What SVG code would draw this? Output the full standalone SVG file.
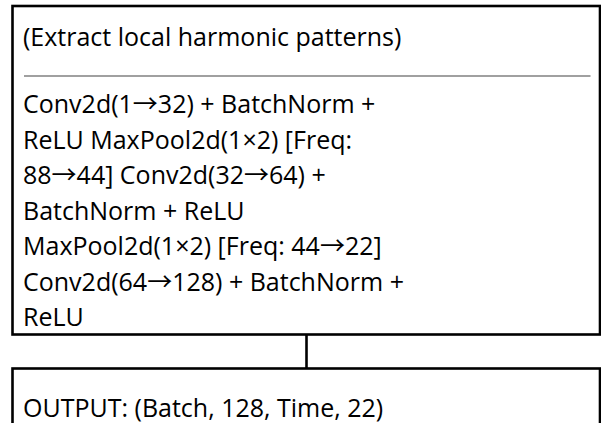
<svg xmlns="http://www.w3.org/2000/svg" width="601" height="423" viewBox="0 0 601 423">
  <style>
    .box { fill: #ffffff; stroke: #000000; stroke-width: 2.6; }
    .rule { stroke: #808080; stroke-width: 1.6; }
    .link { stroke: #000000; stroke-width: 2.6; fill: none; }
    .label { font-family: "Open Sans", "Noto Sans CJK SC", "Noto Sans", "DejaVu Sans", sans-serif; font-size: 25px; fill: #000000; }
  </style>
  <rect x="0" y="0" width="601" height="423" fill="#ffffff"/>

  <!-- connectors -->
  <g id="connectors">
    <line class="link" x1="306.5" y1="334.5" x2="306.5" y2="368.5"/>
  </g>

  <!-- CNN feature extractor block -->
  <g id="cnn-block">
    <rect class="box" x="12.5" y="6" width="587.5" height="328.5"/>
    <text class="label" x="23" y="46">(Extract local harmonic patterns)</text>
    <line class="rule" x1="24" y1="76" x2="590.5" y2="76"/>
    <text class="label" x="23" y="113">Conv2d(1→32) + BatchNorm +</text>
    <text class="label" x="23" y="148.5">ReLU MaxPool2d(1×2) [Freq:</text>
    <text class="label" x="23" y="184">88→44] Conv2d(32→64) +</text>
    <text class="label" x="23" y="219.5">BatchNorm + ReLU</text>
    <text class="label" x="23" y="255">MaxPool2d(1×2) [Freq: 44→22]</text>
    <text class="label" x="23" y="290.5">Conv2d(64→128) + BatchNorm +</text>
    <text class="label" x="23" y="326">ReLU</text>
  </g>

  <!-- output shape block -->
  <g id="output-block">
    <rect class="box" x="12.5" y="368.5" width="587.5" height="80"/>
    <text class="label" x="23" y="416.5">OUTPUT: (Batch, 128, Time, 22)</text>
  </g>
</svg>
